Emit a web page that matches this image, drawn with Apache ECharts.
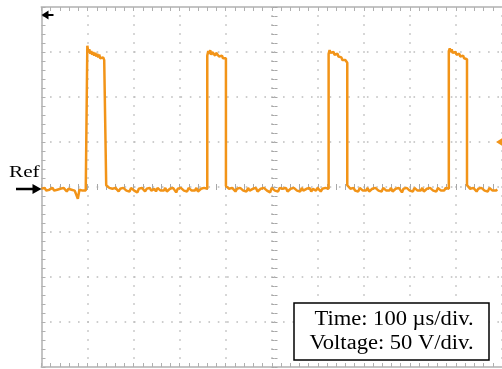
<!DOCTYPE html>
<html>
<head>
<meta charset="utf-8">
<script src="https://cdn.jsdelivr.net/npm/echarts@6/dist/echarts.min.js"></script>
<style>
  html, body { margin: 0; padding: 0; background: #ffffff; }
  #chart { width: 502px; height: 369px; }
</style>
</head>
<body>
<div id="chart"></div>
<script>
// Scope settings: 100 µs/div horizontally, 50 V/div vertically
const timeRangeUs = [0, 1000];
const voltRange = [-200, 200];
const timeDivUs = 100;
const voltDiv = 50;
const refLevel = 0;       // reference (ground) level, V
const triggerLevel = 50;  // trigger marker, V

// Edge times of the four pulses (µs)
const riseUs = [99.5, 360, 623.5, 884.5];
const fallUs = [140.5, 400.5, 664, 924];
const endUs = 990;

// Low level between pulses (V), spread evenly between edges
const low0 = [-2, -4, -1, -4, -2, -3, -5, -1, -4, -2, -3, -5, -2, -4, -1, -3, -5, -2, -4, -3, -1, -4, -2, -13, -3, -1, -4, -2, -4, -3];
const low1 = [2, 0, -1, -3, -2, -4, -1, -3, -5, -2, -4, -1, -3, -4, -2, -5, -1, -3, -4, -2, -6, -2, -4, -1, -3, -5, -2, -4, -1, -4, -3, -2, -5, -1, -3, -4, -2, -4, -1, -5, -3, -2, -4, -1, -3, -6, -2, -4, -1, -3, -4, -2, -5, -1, -3, -4, -2, -4, -1, -5, -3, -2, -4, -1, -3, -2];
const low2 = [1, 0, -2, -4, -1, -3, -5, -2, -4, -1, -3, -4, -2, -5, -1, -4, -3, -2, -4, -1, -5, -3, -2, -4, -1, -3, -4, -2, -6, -1, -3, -4, -2, -5, -1, -3, -2, -4, -1, -5, -3, -2, -4, -1, -3, -4, -2, -5, -1, -4, -3, -2, -4, -1, -5, -2, -3, -4, -1, -3, -5, -2, -4, -1, -3, -2];
const low3 = [2, 0, -2, -3, -1, -4, -2, -5, -1, -3, -4, -2, -4, -1, -5, -3, -2, -4, -1, -3, -4, -2, -5, -1, -3, -4, -2, -4, -1, -5, -3, -2, -4, -1, -3, -6, -2, -4, -1, -3, -4, -2, -5, -1, -3, -4, -2, -4, -1, -5, -3, -2, -4, -1, -3, -4, -2, -5, -1, -3, -4, -2, -4, -1, -3, -2];
const low4 = [2, 0, -2, -4, -1, -3, -5, -2, -4, -1, -3, -4, -2, -5, -1, -3, -4, -2, -4, -3];

// Pulse tops (V), spread evenly between rising and falling edge
const top1 = [157, 150, 153, 148, 151, 147, 150, 146, 149, 145, 148, 144, 147, 143, 145, 142, 144, 141, 142, 140];
const top2 = [146, 151, 148, 152, 147, 150, 148, 151, 146, 149, 147, 148, 145, 147, 144, 146, 143, 145, 144, 143];
const top3 = [148, 152, 149, 151, 148, 150, 147, 149, 146, 148, 145, 146, 143, 144, 141, 142, 140, 141, 139, 138];
const top4 = [151, 154, 150, 153, 149, 151, 148, 150, 147, 149, 146, 148, 145, 147, 144, 146, 143, 145, 143, 142];

const traceColor = '#f29418';
const dotColor = '#bdbdbd';
const frameColor = '#c4c4c4';

// Place the samples of one segment between its two edge times
function spread(values, t0, t1) {
  const n = values.length;
  return values.map((v, i) => [t0 + (t1 - t0) * i / (n - 1), v]);
}

const lows = [low0, low1, low2, low3, low4];
const tops = [top1, top2, top3, top4];
const trace = [];
lows.forEach((low, k) => {
  const t0 = k === 0 ? timeRangeUs[0] : fallUs[k - 1];
  const t1 = k < riseUs.length ? riseUs[k] : endUs;
  trace.push(...spread(low, t0, t1));
  if (k < tops.length) trace.push(...spread(tops[k], riseUs[k], fallUs[k]));
});

const chart = echarts.init(document.getElementById('chart'), null, { renderer: 'canvas' });

// Frame axis with inward graticule ticks
function frameAxis(extra) {
  return Object.assign({
    type: 'value',
    axisLine: { show: true, onZero: false, lineStyle: { color: frameColor, width: 2 } },
    axisTick: { show: true, inside: true, length: 4, lineStyle: { color: '#b0b0b0', width: 1 } },
    minorTick: { show: true, splitNumber: 5, length: 4, lineStyle: { color: '#b0b0b0', width: 1 } },
    axisLabel: { show: false },
    splitLine: { show: false }
  }, extra);
}
// Centre axis: short tick marks only
function centreAxis(extra, inside) {
  return Object.assign({
    type: 'value',
    axisLine: { show: false, onZero: false },
    axisTick: { show: true, inside: inside, length: 3, lineStyle: { color: '#a8a8a8', width: 1 } },
    minorTick: { show: true, splitNumber: 5, length: 3, lineStyle: { color: '#a8a8a8', width: 1 } },
    axisLabel: { show: false },
    splitLine: { show: false }
  }, extra);
}

const xBase = { min: timeRangeUs[0], max: timeRangeUs[1], interval: timeDivUs };
const yBase = { min: voltRange[0], max: voltRange[1], interval: voltDiv };

chart.setOption({
  animation: false,
  backgroundColor: '#ffffff',
  grid: { left: 41.5, top: 7, width: 466, height: 360 },
  xAxis: [
    frameAxis(Object.assign({ position: 'bottom',
      splitLine: { show: true, lineStyle: { color: dotColor, width: 1.6, type: [1.6, 7.4], dashOffset: 0.8 } } }, xBase)),
    frameAxis(Object.assign({ position: 'top' }, xBase)),
    centreAxis(Object.assign({ position: 'bottom', offset: -180 }, xBase), true),
    centreAxis(Object.assign({ position: 'bottom', offset: -180 }, xBase), false)
  ],
  yAxis: [
    frameAxis(Object.assign({ position: 'left',
      splitLine: { show: true, lineStyle: { color: dotColor, width: 1.6, type: [1.6, 7.72], dashOffset: 0.8 } } }, yBase)),
    centreAxis(Object.assign({ position: 'left', offset: -233 }, yBase), true),
    centreAxis(Object.assign({ position: 'left', offset: -233 }, yBase), false)
  ],
  series: [{
    type: 'line',
    xAxisIndex: 0,
    yAxisIndex: 0,
    data: trace,
    showSymbol: false,
    smooth: false,
    lineStyle: { color: traceColor, width: 2.5 },
    z: 5
  }]
});

const refY = chart.convertToPixel({ yAxisIndex: 0 }, refLevel) + 2;
const trigY = chart.convertToPixel({ yAxisIndex: 0 }, triggerLevel);
const plotLeft = chart.convertToPixel({ xAxisIndex: 0 }, timeRangeUs[0]);
const plotTop = chart.convertToPixel({ yAxisIndex: 0 }, voltRange[1]);

chart.setOption({
  graphic: [
    // reference marker
    { type: 'text', x: 9, y: refY - 8, scaleX: 1.25, z: 10,
      style: { text: 'Ref', font: '17px "Liberation Serif"', fill: '#000', textVerticalAlign: 'bottom' } },
    { type: 'line', z: 10, shape: { x1: 16, y1: refY, x2: plotLeft - 6, y2: refY },
      style: { stroke: '#000', lineWidth: 2.5 } },
    { type: 'polygon', z: 10,
      shape: { points: [[plotLeft, refY], [plotLeft - 9, refY - 5], [plotLeft - 9, refY + 5]] },
      style: { fill: '#000' } },
    // trigger position marker (top left)
    { type: 'polygon', z: 10,
      shape: { points: [[plotLeft, plotTop + 8], [plotLeft + 7, plotTop + 3.5], [plotLeft + 7, plotTop + 12.5]] },
      style: { fill: '#000' } },
    { type: 'line', z: 10, shape: { x1: plotLeft + 4, y1: plotTop + 8, x2: plotLeft + 12, y2: plotTop + 8 },
      style: { stroke: '#000', lineWidth: 2 } },
    // trigger level marker (right edge)
    { type: 'polygon', z: 10,
      shape: { points: [[496, trigY], [504, trigY - 5], [504, trigY + 5]] },
      style: { fill: traceColor } },
    // scale box
    { type: 'rect', z: 10, shape: { x: 294, y: 303, width: 195, height: 57 },
      style: { fill: '#ffffff', stroke: '#000', lineWidth: 1.5 } },
    { type: 'text', z: 11, x: 394, y: 320, scaleX: 1.1,
      style: { text: 'Time: 100 µs/div.', font: '20.5px "Liberation Serif"', fill: '#000',
               textAlign: 'center', textVerticalAlign: 'middle' } },
    { type: 'text', z: 11, x: 391.5, y: 343.5, scaleX: 1.1,
      style: { text: 'Voltage: 50 V/div.', font: '20.5px "Liberation Serif"', fill: '#000',
               textAlign: 'center', textVerticalAlign: 'middle' } }
  ]
});
</script>
</body>
</html>
